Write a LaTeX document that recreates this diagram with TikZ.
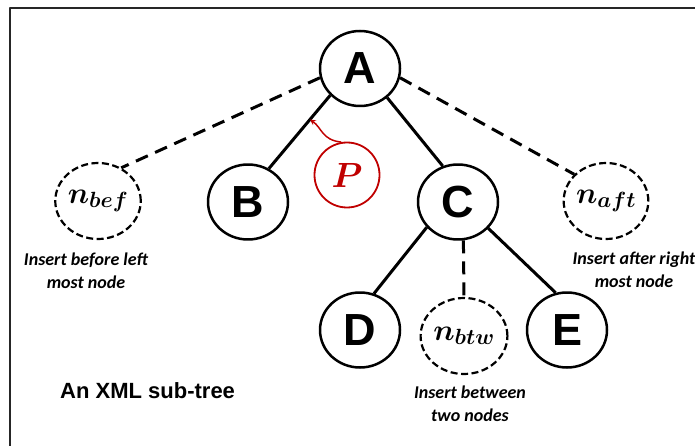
\RequirePackage{fix-cm}
\documentclass[tikz,border=0pt]{standalone}
\usepackage{fontspec}
\usepackage{amsmath}
\newfontfamily\arialfont{Liberation Sans}
\newfontfamily\calibrifont{Carlito}
\usetikzlibrary{shapes.geometric,calc}
\definecolor{pred}{RGB}{192,0,0}
\DeclareMathSizes{30}{30}{22}{16}

\begin{document}
\begin{tikzpicture}[x=1pt, y=-1pt, line join=round, >=stealth,
  tnode/.style={ellipse, draw, line width=2.5pt, minimum width=80pt, minimum height=75pt, inner sep=0pt, font=\arialfont\bfseries\fontsize{45}{54}\selectfont},
  newnode/.style={ellipse, draw, dash pattern=on 7pt off 3.5pt, line width=2.2pt, minimum width=80pt, minimum height=76pt, inner sep=0pt, font=\boldmath\fontsize{30}{34}\selectfont},
  pnode/.style={circle, draw=pred, text=pred, line width=1.8pt, minimum size=65pt, inner sep=0pt, font=\boldmath\fontsize{35}{40}\selectfont},
  edge/.style={line width=3pt},
  newedge/.style={line width=3pt, dash pattern=on 13pt off 8pt},
  note/.style={align=center, inner sep=0pt, font=\calibrifont\bfseries\itshape\fontsize{18}{23}\selectfont},
  caption/.style={inner sep=0pt, font=\arialfont\bfseries\fontsize{22}{26}\selectfont}]
\useasboundingbox (0,0) rectangle (695,446);
\draw[black!85, line width=2pt] (10,8.5) rectangle (710,460);

\node[tnode] (A) at (360,68.5) {A};
\node[tnode] (B) at (248,202) {B};
\node[tnode] (C) at (458,202) {C};
\node[tnode] (D) at (360,330) {D};
\node[tnode] (E) at (567,330) {E};
\node[newnode] (nbef) at (98,201) {$n_{bef}$};
\node[newnode] (naft) at (606,201) {$n_{aft}$};
\node[newnode] (nbtw) at (464,336) {$n_{btw}$};
\node[pnode] (P) at (347,175) {$P$};

% base of a two-line note is its last line
\node[note, anchor=base] (lbef) at (86,288) {Insert before left\\most node};
\node[note, anchor=base] (laft) at (634,287) {Insert after right\\most node};
\node[note, anchor=base] (lbtw) at (470,421) {Insert between\\two nodes};
\node[caption, anchor=base west] (title) at (60,398) {An XML sub-tree};

\foreach \from/\to in {A.222/B.58,A.-47/C.113,C.219/D.69,C.-41/E.107}
\draw[edge]
(\from)--(\to)
;
\foreach \from/\to in {A.193/nbef.55,A.-13/naft.140,C.-82/nbtw.north}
\draw[newedge]
(\from)--(\to)
;

\coordinate (pa) at ($(A.222)!0.33!(B.58)$);
\draw[->, pred, line width=1.5pt] (P.100) .. controls (322,140) and (322,128) .. (pa);
\end{tikzpicture}
\end{document}
